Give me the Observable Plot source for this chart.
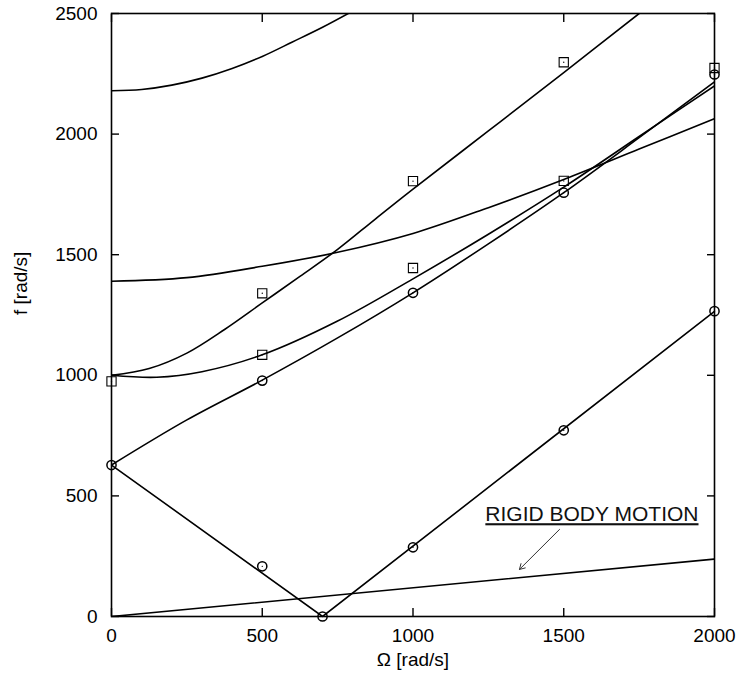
<!DOCTYPE html>
<html>
<head>
<meta charset="utf-8">
<script src="https://cdn.jsdelivr.net/npm/d3@7"></script>
<script src="https://cdn.jsdelivr.net/npm/@observablehq/plot@0.6"></script>
<style>
  body { margin: 0; background: #fff; }
  svg { font-family: "Liberation Sans", Arial, sans-serif; }
</style>
</head>
<body>
<div id="chart"></div>
<script>
// Axis ticks
const xTicks = [0, 500, 1000, 1500, 2000];
const yTicks = [0, 500, 1000, 1500, 2000, 2500];

// Analytical curves (Ω, f)
const curveA = [[0, 2180], [100, 2185], [200, 2203], [300, 2232], [400, 2272], [500, 2322], [600, 2382], [700, 2443], [800, 2510], [850, 2545]];
const curveB = [[0, 1000], [125, 1028], [250, 1092], [375, 1190], [500, 1300], [625, 1410], [750, 1522], [875, 1648], [1000, 1772], [1250, 2013], [1500, 2255], [1750, 2500], [1800, 2550]];
const curveC = [[0, 1390], [250, 1405], [500, 1452], [750, 1510], [1000, 1588], [1250, 1695], [1500, 1812], [1750, 1938], [2000, 2064]];
const curveD = [[0, 1000], [150, 992], [300, 1015], [500, 1085], [750, 1225], [1000, 1400], [1250, 1585], [1500, 1780], [1750, 1990], [2000, 2200]];
const curveE = [[0, 628], [250, 815], [500, 980], [750, 1155], [1000, 1342], [1250, 1545], [1500, 1757], [1750, 1985], [2000, 2217]];
const curveF = [[0, 628], [700, 0], [2000, 1265]];
const rigid  = [[0, 0], [2000, 238]];

// Measured points
const squares = [[0, 975], [500, 1340], [500, 1085], [1000, 1805], [1000, 1445], [1500, 2298], [1500, 1806], [2000, 2274]];
const circles = [[0, 628], [500, 978], [500, 208], [700, 0], [1000, 1342], [1000, 287], [1500, 1757], [1500, 772], [2000, 2247], [2000, 1266]];

// Annotation
const annotationText = ["RIGID BODY MOTION"];
const annotationPos = [1240, 423];
const arrowFrom = [1486, 361];
const arrowTo = [1353, 195];

const xLabel = ["Ω [rad/s]"];
const yLabel = ["f [rad/s]"];

const curves = [curveA, curveB, curveC, curveD, curveE];
const lineOpts = {x: d => d[0], y: d => d[1], stroke: "black", strokeWidth: 1.6, clip: true};

const chart = Plot.plot({
  width: 739,
  height: 680,
  marginLeft: 111,
  marginRight: 25,
  marginTop: 13,
  marginBottom: 64,
  style: {fontSize: "19px", fontFamily: "'Liberation Sans', Arial, sans-serif", background: "white", color: "black"},
  x: {domain: [0, 2000]},
  y: {domain: [0, 2500]},
  marks: [
    ...curves.map(c => Plot.line(c, {...lineOpts, curve: "catmull-rom"})),
    Plot.line(curveF, {...lineOpts, curve: "linear"}),
    Plot.line(rigid, {...lineOpts, curve: "linear"}),
    Plot.dot(squares, {x: d => d[0], y: d => d[1], symbol: "square", r: 5.2, stroke: "black", strokeWidth: 1.1}),
    Plot.dot(circles, {x: d => d[0], y: d => d[1], symbol: "circle", r: 4.6, stroke: "black", strokeWidth: 1.5}),
    Plot.dot(squares.concat(circles), {x: d => d[0], y: d => d[1], r: 0.7, fill: "black"}),
    Plot.arrow([0], {x1: () => arrowFrom[0], y1: () => arrowFrom[1], x2: () => arrowTo[0], y2: () => arrowTo[1], stroke: "#333", strokeWidth: 1, headLength: 9}),
    Plot.text(annotationText, {x: () => annotationPos[0], y: () => annotationPos[1], text: d => d, textAnchor: "start", fontSize: 21, fill: "#111"}),
    Plot.frame({stroke: "black", strokeWidth: 1.6}),
    Plot.axisX({anchor: "bottom", ticks: xTicks, tickSize: -8, tickPadding: 20, tickFormat: d3.format("d"), label: null, strokeWidth: 1.4}),
    Plot.axisX({anchor: "top", ticks: xTicks, tickSize: -8, tickFormat: () => "", label: null, strokeWidth: 1.4}),
    Plot.axisY({anchor: "left", ticks: yTicks, tickSize: -8, tickPadding: 22, tickFormat: d3.format("d"), label: null, strokeWidth: 1.4}),
    Plot.axisY({anchor: "right", ticks: yTicks, tickSize: -8, tickFormat: () => "", label: null, strokeWidth: 1.4}),
    Plot.text(xLabel, {frameAnchor: "bottom", dy: 49, text: d => d, fontSize: 19}),
    Plot.text(yLabel, {frameAnchor: "left", dx: -91, rotate: -90, text: d => d, fontSize: 19})
  ]
});

chart.querySelectorAll("text").forEach(t => {
  if (t.textContent === annotationText[0]) {
    t.style.textDecoration = "underline";
  }
});

document.getElementById("chart").appendChild(chart);
</script>
</body>
</html>
